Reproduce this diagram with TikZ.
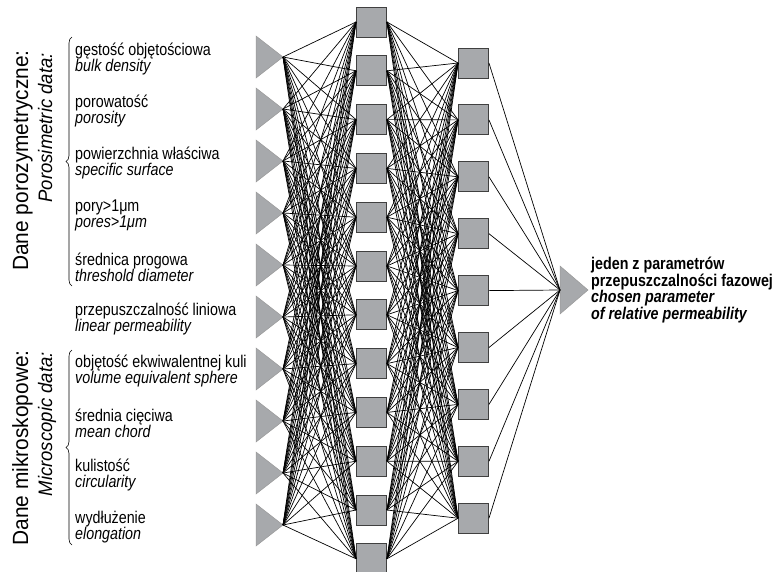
\documentclass[tikz,border=0pt]{standalone}
\usepackage{fontspec}
\setmainfont{Liberation Sans}[FakeStretch=0.84]
\newfontfamily\sidefont{Liberation Sans}[FakeStretch=0.95]
\usetikzlibrary{decorations.pathreplacing}

\definecolor{unitgray}{HTML}{A7A9AC}
\tikzset{
  unit/.style={draw=black!75, fill=unitgray, line width=0.9pt, minimum size=30pt, inner sep=0pt},
  tri/.style={fill=unitgray, draw=black!40, line width=0.5pt},
  wire/.style={line width=0.7pt, black},
  lbl/.style={anchor=west, align=left, inner sep=0pt, font=\fontsize{17}{16}\selectfont},
  rot/.style={rotate=90, inner sep=0pt, anchor=base east},
  curly/.style={decorate, decoration={brace, amplitude=6pt}, line width=0.6pt},
}

\begin{document}
\begin{tikzpicture}[x=1pt, y=-1pt]
\useasboundingbox (0,0) rectangle (773,571);
% input layer
\foreach \i in {1,...,10} {
  \coordinate (inp-\i) at (283, {5+52*\i});
  \filldraw[tri] (inp-\i) -- ++(-27,-21) -- ++(0,42) -- cycle;
}
% hidden layers
\foreach \j in {1,...,12} {
  \node[unit] (hida-\j) at (371.5, {22+48.8*(\j-1)}) {};
}
\foreach \k in {1,...,9} {
  \node[unit] (hidb-\k) at (473.5, {63+56.9*(\k-1)}) {};
}
% output
\coordinate (out) at (560,290);
\filldraw[tri] (out) -- ++(0,-24) -- ++(28,24) -- ++(-28,24) -- cycle;

% connections
\foreach \i in {1,...,10}
  \foreach \j in {1,...,12}
    \draw[wire] (inp-\i) -- (hida-\j.west);
\foreach \j in {1,...,12}
  \foreach \k in {1,...,9}
    \draw[wire] (hida-\j.east) -- (hidb-\k.west);
\foreach \k in {1,...,9}
  \draw[wire] (hidb-\k.east) -- (out);

% input labels
\foreach \pl/\en [count=\i] in {gęstość objętościowa/bulk density, porowatość/porosity,
    powierzchnia właściwa/specific surface, pory>1μm/pores>1μm,
    średnica progowa/threshold diameter, przepuszczalność liniowa/linear permeability,
    objętość ekwiwalentnej kuli/volume equivalent sphere, średnia cięciwa/mean chord,
    kulistość/circularity, wydłużenie/elongation} {
  \node[lbl] (txt-\i) at (75, {59+52*(\i-1)}) {\pl\\\textit{\en}};
}
\node[lbl, font=\bfseries\fontsize{17}{16.8}\selectfont] (res) at (591,290)
  {jeden z parametrów\\przepuszczalności fazowej\\\textit{chosen parameter}\\\textit{of relative permeability}};

% groups
\draw[curly] (72,286) -- (72,37);
\draw[curly] (72,545) -- (72,350);
\node[rot, font=\sidefont\fontsize{22}{24}\selectfont] (grp-a) at (28,50) {Dane porozymetryczne:};
\node[rot, font=\sidefont\itshape\fontsize{19.5}{22}\selectfont] (grp-b) at (52,53) {Porosimetric data:};
\node[rot, font=\sidefont\fontsize{22}{24}\selectfont] (grp-c) at (28,350) {Dane mikroskopowe:};
\node[rot, font=\sidefont\itshape\fontsize{19.5}{22}\selectfont] (grp-d) at (52,352) {Microscopic data:};
\end{tikzpicture}
\end{document}
